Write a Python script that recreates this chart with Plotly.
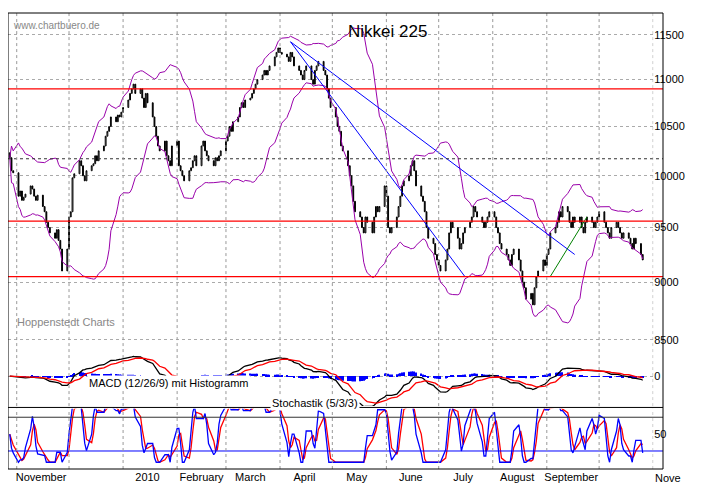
import pandas as pd, numpy as np
import plotly.graph_objects as go

closes = [10180,10050,10030,
9800,9850,9760,9790,9820,9900,9870,9800,9760,9810,9700,9650,9550,9500,9450,9400,9480,9380,9300,9100,9300,
9600,9650,9980,10020,10150,10100,10000,9950,10050,10100,10120,10200,10150,10250,10300,10400,10450,10500,10600,10550,10620,10600,
10650,10700,10780,10850,10900,10950,10850,10900,10800,10700,10850,10750,10600,10500,10400,10300,10250,10350,10200,10150,
10100,10300,10350,10100,10050,10000,9950,10050,10080,10150,10200,10100,10300,10350,10250,10200,10150,10100,10180,
10150,10200,10250,10350,10400,10500,10450,10550,10600,10700,10750,10700,10780,10800,10850,10900,10950,11000,11050,11100,11050,11100,11150,
11250,11300,11350,11300,11280,11250,11200,11300,11250,11150,11100,11050,11000,11100,11150,11000,10950,11100,11150,11200,11100,11050,
10900,10800,10700,10600,10500,10450,10300,10250,10100,10000,9900,9750,9650,9600,9500,9450,9600,9550,9450,9600,9700,
9650,9700,9900,9800,9500,9450,9500,9600,9700,9800,9900,9950,10000,10100,10150,10050,9900,9800,9750,9650,9500,9400,
9350,9250,9200,9150,9100,9200,9300,9450,9550,9500,9400,9300,9350,9450,9500,9550,9600,9700,9650,9600,9550,9500,
9550,9600,9650,9600,9500,9450,9350,9300,9250,9200,9150,9250,9300,9200,9100,9000,8950,8850,8900,8800,8950,9050,
9100,9200,9150,9250,9300,9450,9500,9550,9650,9600,9700,9650,9550,9500,9600,9550,9600,9500,9450,9550,9600,9550,
9500,9550,9600,9650,9550,9500,9450,9400,9500,9550,9500,9450,9400,9450,9400,9350,9300,9400,9350,9250,9200]
start_date = "2009-10-28"
price_ticks = [8500, 9000, 9500, 10000, 10500, 11000, 11500]
red_levels = [10900, 9560, 9050]
dotted_level = 10170
blue_lines = [(("2010-04-07", 11420), ("2010-07-16", 9050)),
              (("2010-04-07", 11420), ("2010-09-17", 9250))]
green_line = (("2010-09-03", 9050), ("2010-09-24", 9600))
month_starts = pd.date_range("2009-11-01", "2010-11-01", freq="MS")
tick_labels = ["November","December","2010","February","March","April","May","June","July","August","September","October"]
show_labels = [True,False,True,True,True,True,True,True,True,True,True,False]

dates = pd.bdate_range(start_date, periods=len(closes))
c = pd.Series(closes, index=dates, dtype=float)
o = c.shift(1).fillna(c.iloc[0] + 50)
hi = np.maximum(o, c); lo = np.minimum(o, c)
ma = c.rolling(20, min_periods=1).mean(); sd = c.rolling(20, min_periods=1).std().fillna(0)
ub, lb = ma + 2*sd, ma - 2*sd
macd = c.ewm(span=12).mean() - c.ewm(span=26).mean()
sig = macd.ewm(span=9).mean()
hist = macd - sig
ll = c.rolling(5, min_periods=1).min(); hh = c.rolling(5, min_periods=1).max()
k = (100*(c-ll)/(hh-ll).replace(0, np.nan)).fillna(50).rolling(3, min_periods=1).mean()
d = k.rolling(3, min_periods=1).mean()

fig = go.Figure()
fig.add_trace(go.Scatter(x=dates, y=ub, mode="lines", line=dict(color="#9900aa", width=1), hoverinfo="skip"))
fig.add_trace(go.Scatter(x=dates, y=lb, mode="lines", line=dict(color="#9900aa", width=1), hoverinfo="skip"))
fig.add_trace(go.Candlestick(x=dates, open=o, high=hi, low=lo, close=c,
    increasing=dict(fillcolor="white", line=dict(color="black", width=1)),
    decreasing=dict(fillcolor="black", line=dict(color="black", width=1)), whiskerwidth=0))
for (a, b) in blue_lines:
    fig.add_trace(go.Scatter(x=[a[0], b[0]], y=[a[1], b[1]], mode="lines", line=dict(color="blue", width=1)))
fig.add_trace(go.Scatter(x=[green_line[0][0], green_line[1][0]], y=[green_line[0][1], green_line[1][1]],
    mode="lines", line=dict(color="green", width=1)))
# MACD
fig.add_trace(go.Bar(x=dates, y=hist*0.6, marker_color="blue", marker_line_width=0, yaxis="y3"))
fig.add_trace(go.Scatter(x=dates, y=macd, mode="lines", line=dict(color="black", width=1.3), yaxis="y3"))
fig.add_trace(go.Scatter(x=dates, y=sig, mode="lines", line=dict(color="red", width=1.3), yaxis="y3"))
# Stoch
fig.add_trace(go.Scatter(x=dates, y=d, mode="lines", line=dict(color="red", width=1.3), xaxis="x2", yaxis="y2"))
fig.add_trace(go.Scatter(x=dates, y=k, mode="lines", line=dict(color="blue", width=1.3), xaxis="x2", yaxis="y2"))

shapes = []
for lv in red_levels:
    shapes.append(dict(type="line", xref="paper", x0=0, x1=1, yref="y", y0=lv, y1=lv, line=dict(color="red", width=1.3)))
shapes.append(dict(type="line", xref="paper", x0=0, x1=1, yref="y", y0=dotted_level, y1=dotted_level, line=dict(color="#333", width=1, dash="dot")))
shapes.append(dict(type="line", xref="paper", x0=0, x1=1, yref="y2", y0=80, y1=80, line=dict(color="#333", width=1)))
shapes.append(dict(type="line", xref="paper", x0=0, x1=1, yref="y2", y0=20, y1=20, line=dict(color="blue", width=1)))
for ms in month_starts:
    for ya in ["y domain", "y2 domain"]:
        shapes.append(dict(type="line", xref="x", x0=ms, x1=ms, yref=ya, y0=0, y1=1, line=dict(color="#999", width=1, dash="dot")))
shapes.append(dict(type="rect", xref="paper", x0=0, x1=1, yref="paper", y0=0, y1=1, line=dict(color="black", width=1)))
shapes.append(dict(type="line", xref="paper", x0=0, x1=1, yref="paper", y0=0.135, y1=0.135, line=dict(color="black", width=1)))

tv = [ms + pd.Timedelta(days=14) for ms, s in zip(month_starts, show_labels) if s]
tt = [t for t, s in zip(tick_labels, show_labels) if s]
xr = [dates[0] - pd.Timedelta(days=1), pd.Timestamp("2010-11-01")]
fnt = dict(family="Liberation Sans, Arial", size=11, color="black")
fig.update_layout(
    width=723, height=486, margin=dict(l=0, r=68, t=5, b=25),
    paper_bgcolor="white", plot_bgcolor="white", showlegend=False, bargap=0.5,
    font=fnt, shapes=shapes,
    xaxis=dict(domain=[0, 0.985], range=xr, anchor="y", showticklabels=False, showgrid=False,
               rangeslider=dict(visible=False), zeroline=False),
    xaxis2=dict(domain=[0, 0.985], range=xr, anchor="y2", matches="x", tickvals=tv, ticktext=tt,
                showgrid=False, ticks="", tickfont=fnt),
    yaxis=dict(domain=[0.138, 1], type="log", range=[np.log10(7960), np.log10(11750)], side="right",
               tickvals=price_ticks, ticktext=[str(p) for p in price_ticks], showgrid=True,
               gridcolor="#aaa", griddash="dot", ticks="", tickfont=fnt, zeroline=False),
    yaxis3=dict(overlaying="y", range=[-375, 4537], side="right", tickvals=[0], showgrid=True,
                gridcolor="#aaa", griddash="dot", zeroline=False, tickfont=fnt),
    yaxis2=dict(domain=[0, 0.132], range=[-12, 95], side="right", tickvals=[50], showgrid=False,
                zeroline=False, tickfont=fnt),
    annotations=[
        dict(text="Nikkei 225", xref="paper", yref="paper", x=0.58, y=0.985, showarrow=False, font=dict(size=17, family="Liberation Sans, Arial")),
        dict(text="www.chartbuero.de", xref="paper", yref="paper", x=0.005, y=0.99, xanchor="left", showarrow=False, font=dict(size=10, color="#888")),
        dict(text="Hoppenstedt Charts", xref="paper", yref="paper", x=0.01, y=0.305, xanchor="left", showarrow=False, font=dict(size=11, color="#888")),
        dict(text="MACD (12/26/9) mit Histogramm", xref="paper", yref="paper", x=0.12, y=0.17, xanchor="left", showarrow=False, font=fnt, bgcolor="white"),
        dict(text="Stochastik (5/3/3)", xref="paper", yref="paper", x=0.4, y=0.128, xanchor="left", showarrow=False, font=fnt, bgcolor="white"),
        dict(text="Nove", xref="paper", yref="paper", x=0.985, y=-0.02, xanchor="left", yanchor="middle", showarrow=False, font=fnt),
    ],
)
fig.write_html("out.html")
